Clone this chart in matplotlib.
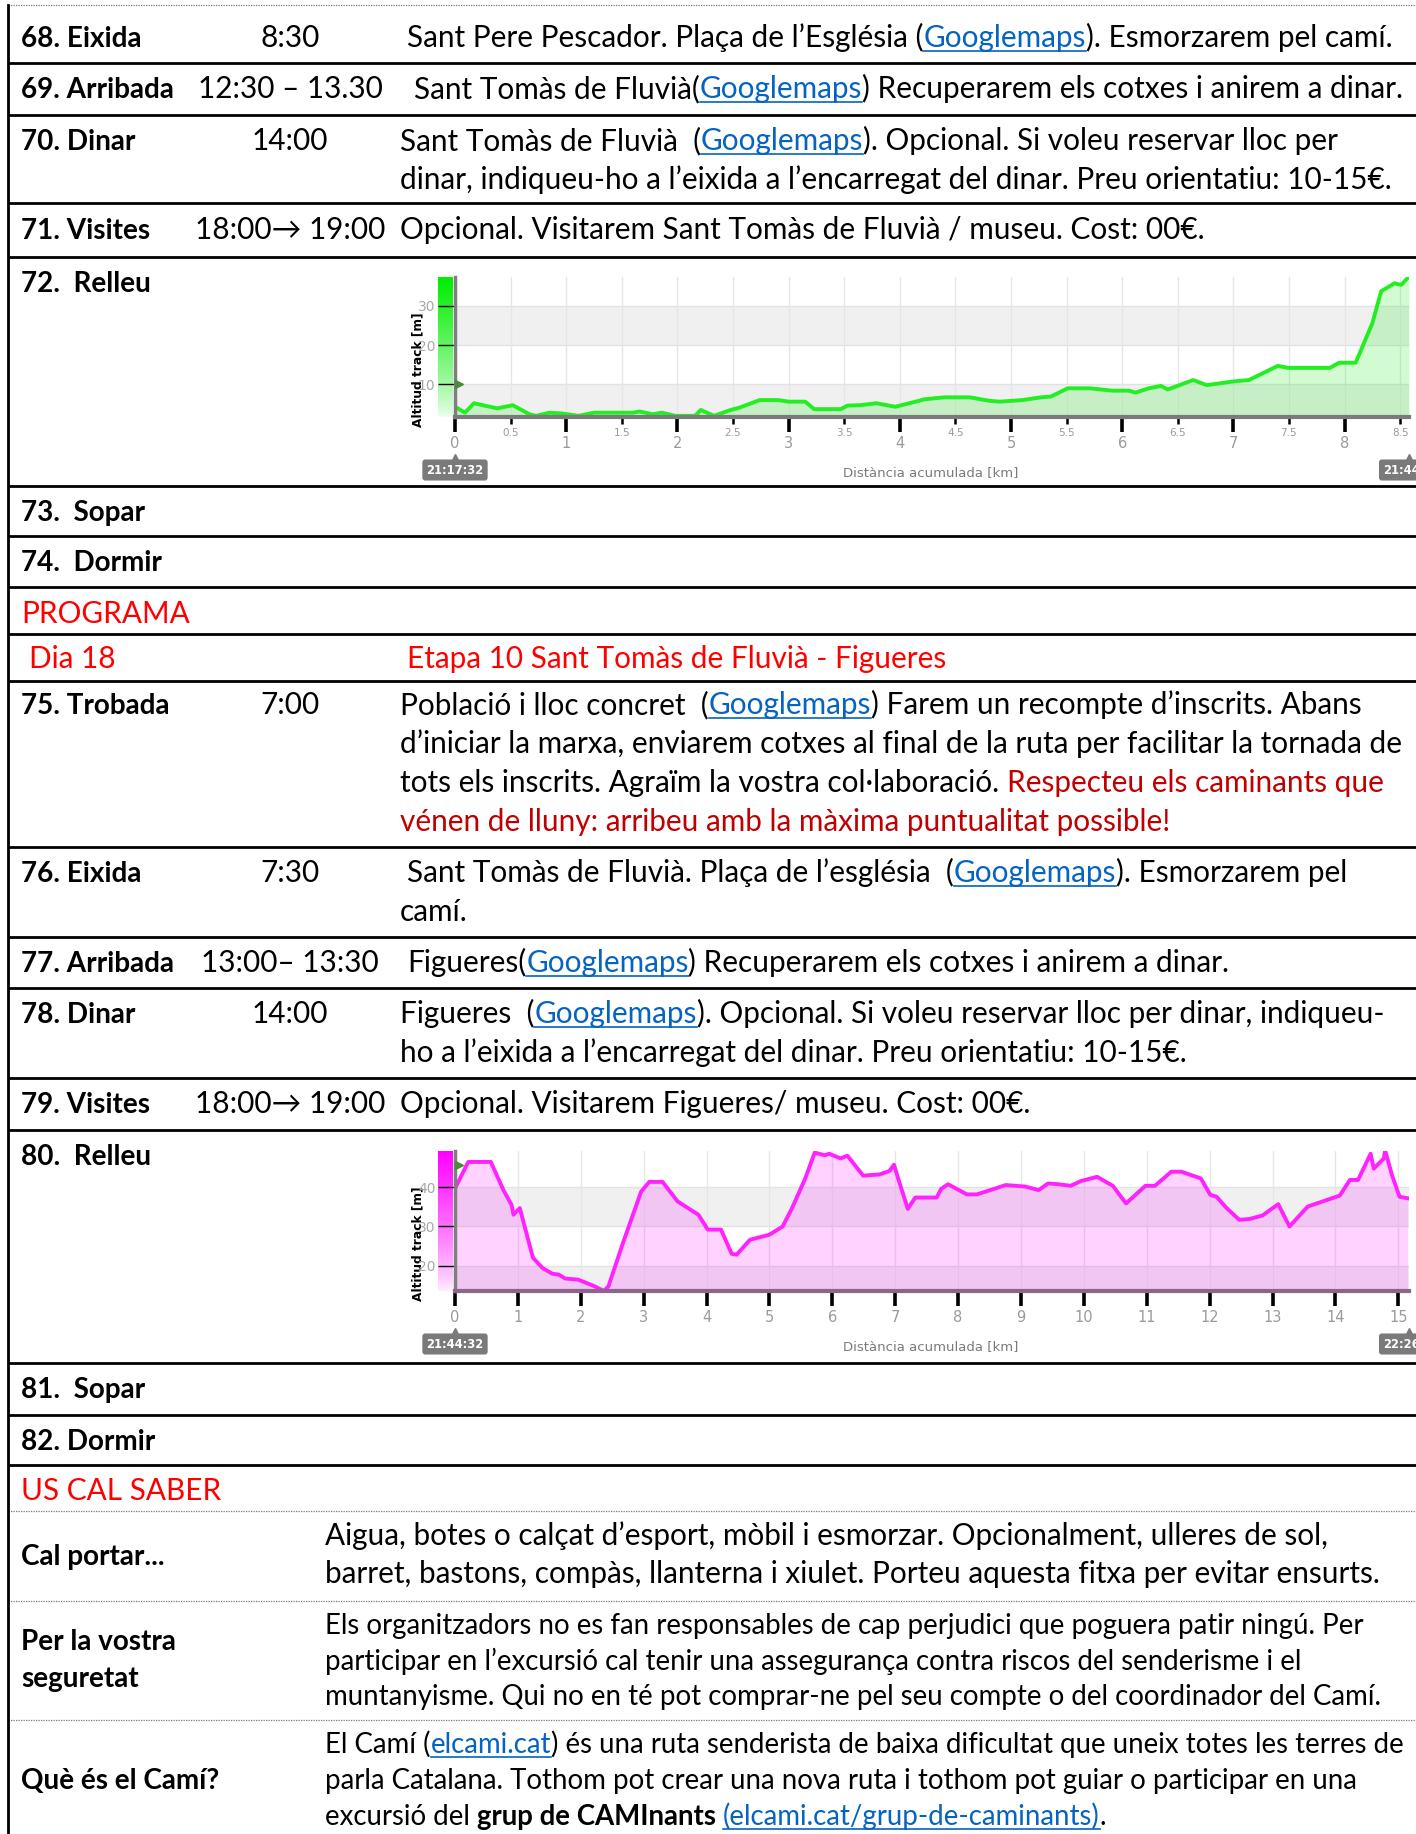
import numpy as np
import matplotlib
matplotlib.use('Agg')
import matplotlib.pyplot as plt
from matplotlib.colors import LinearSegmentedColormap

plt.rcParams['font.family'] = ['Lato', 'DejaVu Sans']

W, H = 1416, 1834

# elevation profile, row 72 (Sant Pere Pescador -> Sant Tomas de Fluvia)
km_72 = [0, 0.09, 0.17, 0.38, 0.52, 0.67, 0.73, 0.85, 0.96, 1.11,
         1.25, 1.60, 1.66, 1.78, 1.86, 1.98, 2.16, 2.21, 2.33, 2.48,
         2.56, 2.74, 2.91, 3.00, 3.15, 3.23, 3.47, 3.53, 3.64, 3.79,
         3.96, 4.17, 4.22, 4.40, 4.63, 4.81, 4.90, 5.10, 5.27, 5.36,
         5.51, 5.71, 5.91, 6.06, 6.12, 6.24, 6.35, 6.41, 6.64, 6.76,
         6.91, 7.02, 7.14, 7.40, 7.49, 7.87, 7.95, 8.10, 8.25, 8.33,
         8.45, 8.51, 8.58]
alt_72 = [4.3, 2.8, 5.2, 3.9, 4.7, 2.4, 2.0, 2.8, 2.6, 2.0,
          2.8, 2.8, 3.1, 2.4, 2.8, 2.0, 2.0, 3.5, 2.0, 3.5,
          4.1, 6.0, 6.0, 5.6, 5.6, 3.7, 3.7, 4.6, 4.7, 5.2,
          4.3, 5.8, 6.2, 6.7, 6.7, 5.8, 5.6, 6.0, 6.7, 6.9,
          9.0, 9.0, 8.4, 8.4, 7.9, 9.0, 9.6, 8.7, 11.1, 9.8,
          10.4, 10.8, 11.1, 14.7, 14.2, 14.2, 15.5, 15.5, 25.5, 33.7,
          35.7, 35.3, 37.4]

# elevation profile, row 80 (Sant Tomas de Fluvia -> Figueres)
km_80 = [0, 0.21, 0.57, 0.77, 0.90, 0.93, 1.03, 1.24, 1.39, 1.55,
         1.65, 1.75, 1.96, 2.22, 2.37, 2.44, 2.68, 2.96, 3.09, 3.30,
         3.54, 3.87, 4.02, 4.23, 4.40, 4.48, 4.69, 5.00, 5.21, 5.36,
         5.57, 5.72, 5.88, 5.95, 6.13, 6.24, 6.49, 6.75, 6.91, 6.98,
         7.06, 7.20, 7.32, 7.66, 7.73, 7.84, 8.14, 8.30, 8.76, 9.07,
         9.28, 9.43, 9.59, 9.79, 9.95, 10.21, 10.46, 10.67, 10.98, 11.13,
         11.39, 11.55, 11.86, 12.01, 12.11, 12.27, 12.47, 12.63, 12.84, 13.09,
         13.27, 13.56, 14.07, 14.23, 14.36, 14.56, 14.61, 14.77, 14.79, 14.90,
         15.02, 15.15]
alt_80 = [39.7, 46.5, 46.5, 39.3, 35.5, 33.0, 34.7, 22.0, 19.4, 17.9,
          17.7, 16.7, 16.4, 14.7, 13.5, 14.7, 26.2, 38.9, 41.4, 41.4,
          36.4, 33.0, 29.2, 29.2, 23.0, 22.8, 26.6, 27.9, 30.0, 34.7,
          42.3, 48.9, 48.2, 48.6, 47.4, 48.1, 43.0, 43.3, 44.2, 45.8,
          41.6, 34.5, 37.4, 37.4, 39.6, 40.8, 38.2, 38.2, 40.6, 40.2,
          39.3, 41.0, 40.8, 40.4, 41.6, 42.7, 40.4, 35.9, 40.4, 40.4,
          44.0, 44.0, 42.3, 38.1, 37.6, 34.7, 31.7, 31.9, 32.8, 35.7,
          30.0, 35.1, 37.9, 41.9, 41.9, 48.6, 44.8, 47.4, 49.5, 43.1,
          37.6, 37.2]

yticks_72 = [10, 20, 30]
yticks_80 = [20, 30, 40]
times_72 = ['21:17:32', '21:44:32']
times_80 = ['21:44:32', '22:26']
xlabel = 'Distància acumulada [km]'
ylabel = 'Altitud track [m]'

LINK = '#0563C1'
RED = '#FF0000'
DRED = '#C00000'

fig = plt.figure(figsize=(W / 100, H / 100), dpi=100)
bg = fig.add_axes([0, 0, 1, 1])
bg.set_xlim(0, W); bg.set_ylim(H, 0); bg.axis('off')
r = fig.canvas.get_renderer()


def tw(s, size, weight='normal'):
    # advance width of s in pixels (sentinel trick keeps spaces)
    t = bg.text(0, 0, s + '|', fontsize=size, weight=weight)
    w = t.get_window_extent(r).width
    t.set_text('|')
    w -= t.get_window_extent(r).width
    t.remove()
    return w


def fit(s, target, weight='normal'):
    return 20 * target / tw(s, 20, weight)


FS = fit('Sant Pere Pescador. Plaça de l’Església (Googlemaps). Esmorzarem pel camí.', 985)
FB = fit('69. Arribada', 153, 'bold')
FSS = fit('participar en l’excursió cal tenir una assegurança contra riscos del senderisme i el', 978)

STY = {'n': ('k', 'normal'), 'b': ('k', 'bold'), 'u': (LINK, 'normal'),
       'r': (RED, 'normal'), 'd': (DRED, 'normal')}


def put(x, y, segs, size=None):
    size = size or FS
    if isinstance(segs, str):
        segs = [(segs, 'n')]
    for s, st in segs:
        col, wt = STY[st]
        core = s.strip(' ')
        lead = len(s) - len(s.lstrip(' '))
        x0 = x + (tw(' ' * lead, size, wt) if lead else 0)
        bg.text(x0, y, core, fontsize=size, color=col, weight=wt, va='baseline', ha='left')
        if st == 'u':
            bg.plot([x0, x0 + tw(core, size, wt)], [y + 4, y + 4], color=LINK, lw=1.2)
        x += tw(s, size, wt)


def label(y, s):
    bg.text(21, y, s, fontsize=FB, weight='bold', va='baseline')


def hour(y, s):
    bg.text(290, y, s, fontsize=FS, ha='center', va='baseline')


# table rules
for y in [63, 115, 203, 257, 486, 536, 587, 634, 681, 847, 937, 988, 1078, 1130, 1363, 1415, 1465]:
    bg.plot([8, W], [y, y], color='k', lw=2, solid_capstyle='butt')
for y in [5, 1511, 1601, 1720]:
    bg.plot([8, W], [y, y], color='#777777', lw=0.9, ls=(0, (1, 1)))
bg.plot([8, 8], [5, H], color='k', lw=2)

# ---- day 17 rows ----
label(47, '68. Eixida'); hour(47, '8:30')
put(407, 47, [('Sant Pere Pescador. Plaça de l’Església (', 'n'), ('Googlemaps', 'u'),
              ('). Esmorzarem pel camí.', 'n')])
label(98, '69. Arribada'); hour(98, '12:30 – 13.30')
put(414, 98, [('Sant Tomàs de Fluvià(', 'n'), ('Googlemaps', 'u'),
              (') Recuperarem els cotxes i anirem a dinar.', 'n')])
label(150, '70. Dinar'); hour(150, '14:00')
put(400, 150, [('Sant Tomàs de Fluvià  (', 'n'), ('Googlemaps', 'u'),
               ('). Opcional. Si voleu reservar lloc per', 'n')])
put(400, 189, 'dinar, indiqueu-ho a l’eixida a l’encarregat del dinar. Preu orientatiu: 10-15€.')
label(239, '71. Visites'); hour(239, '18:00→ 19:00')
put(400, 239, 'Opcional. Visitarem Sant Tomàs de Fluvià / museu. Cost: 00€.')
label(292, '72.  Relleu')
label(521, '73.  Sopar')
label(571, '74.  Dormir')

put(21, 623, [('PROGRAMA', 'r')])
put(29, 668, [('Dia 18', 'r')])
put(407, 668, [('Etapa 10 Sant Tomàs de Fluvià - Figueres', 'r')])

# ---- day 18 rows ----
label(714, '75. Trobada'); hour(714, '7:00')
put(400, 714, [('Població i lloc concret  (', 'n'), ('Googlemaps', 'u'),
               (') Farem un recompte d’inscrits. Abans', 'n')])
put(400, 753, 'd’iniciar la marxa, enviarem cotxes al final de la ruta per facilitar la tornada de')
put(400, 792, [('tots els inscrits. Agraïm la vostra col·laboració. ', 'n'),
               ('Respecteu els caminants que', 'd')])
put(400, 831, [('vénen de lluny: arribeu amb la màxima puntualitat possible!', 'd')])
label(882, '76. Eixida'); hour(882, '7:30')
put(407, 882, [('Sant Tomàs de Fluvià. Plaça de l’església  (', 'n'), ('Googlemaps', 'u'),
               ('). Esmorzarem pel', 'n')])
put(400, 921, 'camí.')
label(972, '77. Arribada'); hour(972, '13:00– 13:30')
put(407, 972, [('Figueres(', 'n'), ('Googlemaps', 'u'),
               (') Recuperarem els cotxes i anirem a dinar.', 'n')])
label(1023, '78. Dinar'); hour(1023, '14:00')
put(400, 1023, [('Figueres  (', 'n'), ('Googlemaps', 'u'),
                ('). Opcional. Si voleu reservar lloc per dinar, indiqueu-', 'n')])
put(400, 1062, 'ho a l’eixida a l’encarregat del dinar. Preu orientatiu: 10-15€.')
label(1113, '79. Visites'); hour(1113, '18:00→ 19:00')
put(400, 1113, 'Opcional. Visitarem Figueres/ museu. Cost: 00€.')
label(1165, '80.  Relleu')
label(1398, '81.  Sopar')
label(1450, '82. Dormir')

# ---- us cal saber ----
put(21, 1500, [('US CAL SABER', 'r')])
label(1565, 'Cal portar...')
put(325, 1545, 'Aigua, botes o calçat d’esport, mòbil i esmorzar. Opcionalment, ulleres de sol,')
put(325, 1583, 'barret, bastons, compàs, llanterna i xiulet. Porteu aquesta fitxa per evitar ensurts.')
label(1650, 'Per la vostra'); label(1687, 'seguretat')
put(325, 1634, 'Els organitzadors no es fan responsables de cap perjudici que poguera patir ningú. Per', FSS)
put(325, 1670, 'participar en l’excursió cal tenir una assegurança contra riscos del senderisme i el', FSS)
put(325, 1705, 'muntanyisme. Qui no en té pot comprar-ne pel seu compte o del coordinador del Camí.', FSS)
label(1789, 'Què és el Camí?')
put(325, 1753, [('El Camí (', 'n'), ('elcami.cat', 'u'),
                (') és una ruta senderista de baixa dificultat que uneix totes les terres de', 'n')], FSS)
put(325, 1789, 'parla Catalana. Tothom pot crear una nova ruta i tothom pot guiar o participar en una', FSS)
put(325, 1825, [('excursió del ', 'n'), ('grup de CAMInants', 'b'), (' ', 'n'),
                ('(elcami.cat/grup-de-caminants)', 'u'), ('.', 'n')], FSS)


def profile(top, km, alt, xmax, ylim, yticks, bands, col, bar_cols, base_col, half, times, flag):
    bot = top + 140
    cax = fig.add_axes([438 / W, 1 - bot / H, 15 / W, 140 / H])
    cax.imshow(np.linspace(0, 1, 100)[:, None] ** 0.8, aspect='auto', origin='lower',
               cmap=LinearSegmentedColormap.from_list('bar', bar_cols))
    cax.axis('off')

    ax = fig.add_axes([455 / W, 1 - bot / H, 954 / W, 140 / H])
    ax.set_xlim(0, xmax); ax.set_ylim(*ylim)
    for b0, b1 in bands:
        ax.axhspan(b0, b1, color='#f0f0f0', lw=0, zorder=0)
    for yy in yticks:
        ax.axhline(yy, color='#e2e2e2', lw=1, zorder=0.5)
    step = 0.5 if half else 1
    for xx in np.arange(step, xmax, step):
        ax.axvline(xx, color='#e6e6e6', lw=1, zorder=0.5)
    ax.fill_between(km, alt, ylim[0], color=col, alpha=0.2, lw=0, zorder=1)
    ax.plot(km, alt, color=col, lw=2.8, zorder=2, solid_joinstyle='round')
    ax.plot(flag[0], flag[1], marker='>', ms=6, color='#4b8b3b', clip_on=False, zorder=5)

    for s in ('top', 'right'):
        ax.spines[s].set_visible(False)
    ax.spines['left'].set_color('#7f7f7f'); ax.spines['left'].set_linewidth(2.5)
    ax.spines['bottom'].set_color(base_col); ax.spines['bottom'].set_linewidth(3)

    ax.set_xticks(np.arange(0, int(xmax) + 1))
    ax.tick_params(axis='x', which='major', length=11, width=2.6, color='k',
                   labelcolor='#9a9a9a', labelsize=10.5, pad=3)
    if half:
        mids = np.arange(0.5, xmax, 1)
        ax.set_xticks(mids, minor=True)
        ax.set_xticklabels([f'{v:g}' for v in mids], minor=True)
        ax.tick_params(axis='x', which='minor', length=5, width=1.8, color='k',
                       labelcolor='#9a9a9a', labelsize=7.5, pad=3)
    ax.set_yticks(yticks)
    ax.tick_params(axis='y', length=12, width=1, color='k', labelcolor='#a8a8a8',
                   labelsize=10, pad=2)
    for lab in ax.get_xticklabels(which='both') + ax.get_yticklabels():
        lab.set_family('DejaVu Sans')

    bg.text(418, top + 93, ylabel, rotation=90, ha='center', va='center', fontsize=8.8,
            weight='bold', family='DejaVu Sans')
    bg.text(931, bot + 56, xlabel, ha='center', va='center', fontsize=9.5,
            color='#7a7a7a', family='DejaVu Sans')
    box = dict(boxstyle='round,pad=0.35,rounding_size=0.25', fc='#7a7a7a', ec='none')
    bg.text(455, bot + 53, times[0], ha='center', va='center', fontsize=8.3, weight='bold',
            color='white', family='DejaVu Sans', bbox=box)
    bg.plot(455, bot + 41, marker='^', ms=6, color='#7a7a7a')
    bg.text(1383, bot + 53, times[1], ha='left', va='center', fontsize=8.3, weight='bold',
            color='white', family='DejaVu Sans', bbox=box)
    bg.plot(1409, bot + 41, marker='^', ms=6, color='#7a7a7a')


profile(277, km_72, alt_72, 8.58, (1.7, 37.3), yticks_72, [(1.7, 10), (20, 30)],
        '#22ee22', ['#eeffee', '#00ee00'], '#7a7a7a', True, times_72, (0.036, 10))
profile(1151, km_80, alt_80, 15.17, (13.5, 49.3), yticks_80, [(13.5, 20), (30, 40)],
        '#ff22ff', ['#ffeeff', '#ff00ff'], '#8c648c', False, times_80, (0.065, 45.7))

fig.savefig('out.png', dpi=100)
